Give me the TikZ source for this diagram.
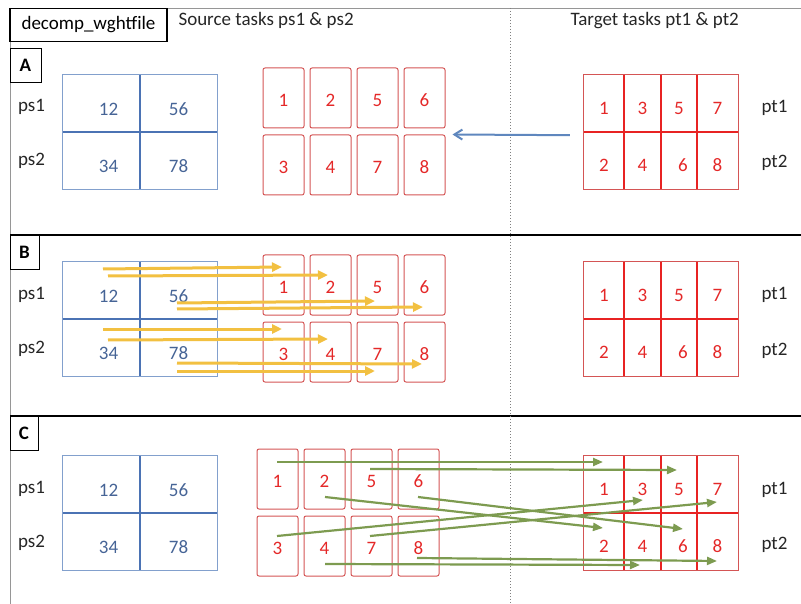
\documentclass[tikz,border=0pt]{standalone}
\usepackage{fontspec}
\setmainfont{Carlito}
\usetikzlibrary{arrows.meta,calc,positioning}
\definecolor{srcline}{RGB}{130,160,205}
\definecolor{srcmid}{RGB}{75,115,180}
\definecolor{srctext}{RGB}{70,100,150}
\definecolor{boxred}{RGB}{212,85,85}
\definecolor{gridred}{RGB}{232,35,35}
\definecolor{numred}{RGB}{228,40,40}
\definecolor{movyellow}{RGB}{242,192,65}
\definecolor{movgreen}{RGB}{125,155,80}
\definecolor{movblue}{RGB}{95,135,190}
\definecolor{framegray}{RGB}{150,150,150}

\tikzset{
  bcell/.style={minimum width=77pt, minimum height=57pt, inner sep=0pt, text=srctext, text height=24pt},
  bleft/.style={execute at begin node={\hspace*{14pt}}},
  sbox/.style={draw=boxred, line width=1pt, rounded corners=2pt, minimum width=41pt, minimum height=60pt, inner sep=0pt, text=numred, text height=17pt},
  tcell/.style={minimum width=#1, minimum height=57pt, inner sep=0pt, text=numred, text height=22pt},
  lbl/.style={anchor=base, text=black!85},
  tag/.style={draw, line width=0.8pt, font=\fontsize{19}{23}\selectfont\bfseries, inner sep=0pt, minimum height=34pt},
  movey/.style={movyellow, line width=3pt, -{Triangle[length=10pt,width=9pt]}},
  moveg/.style={movgreen, line width=2.2pt, -{Triangle[length=10pt,width=8pt]}},
}

\begin{document}
\begin{tikzpicture}[x=1pt, y=-1pt, font=\fontsize{19}{23}\selectfont]
\useasboundingbox (0,0) rectangle (801,604);
%--- frame ---
\draw[framegray, line width=0.8pt] (10,8) -- (801,8);
\draw[framegray, line width=0.8pt] (10.5,8) -- (10.5,604);
\draw[line width=1.6pt] (10,235) -- (801,235);
\draw[line width=1.6pt] (10,416) -- (801,416);
\draw[gray, dotted, line width=1pt] (510,8) -- (510,604);
%--- headers ---
\node[draw, line width=1.2pt, fill=white, minimum width=157pt, minimum height=33pt, inner sep=0pt] (title) at (88.5,25) {decomp\_wghtfile};
\node[anchor=base west, text=black!85] (srchead) at (175,26) {Source tasks ps1 \& ps2};
\node[anchor=base west, text=black!85] (tgthead) at (567,26) {Target tasks pt1 \& pt2};
\node[tag, minimum width=31pt] (tagA) at (25.5,65) {A};
\node[tag, minimum width=29pt] (tagB) at (24.5,252.5) {B};
\node[tag, minimum width=28pt] (tagC) at (24,433.5) {C};
%--- the three panels ---
\foreach \p/\dy/\dx in {a/0/0, b/187/0, c/381/-6}{
  \begin{scope}[shift={(0,\dy)}]
    % source grid
    \node[bcell, bleft] (\p-12) at (101.5,103.5) {12};
    \node[bcell]        (\p-56) at (178.5,103.5) {56};
    \node[bcell, bleft] (\p-34) at (101.5,160.5) {34};
    \node[bcell]        (\p-78) at (178.5,160.5) {78};
    \draw[srcline, line width=1pt] (\p-12.north west) rectangle (\p-78.south east);
    \draw[srcmid, line width=1.6pt] (\p-12.north east) -- (\p-34.south east);
    \draw[srcmid, line width=1.6pt] (\p-12.south west) -- (\p-56.south east);
    \node[lbl] (\p-ps1) at (31.5,112) {ps1};
    \node[lbl] (\p-ps2) at (31.5,166) {ps2};
    % source tasks
    \begin{scope}[shift={(\dx,0)}]
      \foreach \n [count=\i] in {1,2,5,6}
        \node[sbox] (\p-s\n) at (236.5+47*\i,98) {\n};
      \foreach \n [count=\i] in {3,4,7,8}
        \node[sbox] (\p-s\n) at (236.5+47*\i,165) {\n};
    \end{scope}
    % target grid
    \node[tcell=40pt] (\p-t1) at (604,103.5) {1};
    \node[tcell=37pt] (\p-t3) at (642.5,103.5) {3};
    \node[tcell=36pt] (\p-t5) at (679,103.5) {5};
    \node[tcell=41pt] (\p-t7) at (717.5,103.5) {7};
    \node[tcell=40pt] (\p-t2) at (604,160.5) {2};
    \node[tcell=37pt] (\p-t4) at (642.5,160.5) {4};
    \node[tcell=36pt, execute at begin node={\hspace*{8pt}}] (\p-t6) at (679,160.5) {6};
    \node[tcell=41pt] (\p-t8) at (717.5,160.5) {8};
    \draw[boxred, line width=1pt] (\p-t1.north west) rectangle (\p-t8.south east);
    \draw[gridred, line width=1.6pt] (\p-t1.south west) -- (\p-t7.south east);
    \foreach \c/\d in {1/2,3/4,5/6}
      \draw[gridred, line width=1.6pt] (\p-t\c.north east) -- (\p-t\d.south east);
    \node[lbl] (\p-pt1) at (774.5,113) {pt1};
    \node[lbl] (\p-pt2) at (774.5,168) {pt2};
  \end{scope}
}
%--- A: target back to source ---
\draw[movblue, line width=2pt, -{Straight Barb[length=8pt,width=10pt]}] ([shift={(-14,3)}]a-t1.south west) -- ([shift={(7,0)}]a-s8.north east);
%--- B: source grid -> source tasks ---
\foreach \s/\sx/\sy/\t/\tx/\ty in {12/1.5/-21.5/1/-1.5/-18, 12/6.5/-14.5/2/-2.5/-10,
    56/-1.5/12.5/5/-2.5/16, 56/-1.5/18.5/6/-1.5/22, 34/1.5/-18.5/3/-1.5/-23,
    34/6.5/-7.5/4/-2.5/-13, 78/-1.5/15.5/8/-2.5/12, 78/-1.5/23.5/7/-2.5/19}
  \draw[movey] ([shift={(\sx,\sy)}]b-\s.center) -- ([shift={(\tx,\ty)}]b-s\t.center);
%--- C: source tasks -> target tasks ---
\foreach \s/\sx/\sy/\t/\tx/\ty in {1/-0.5/-17/1/-1/-22.5, 5/-1.5/-10/5/-2/-14.5,
    2/0.5/18/2/-1/-13.5, 6/-0.5/18/6/4/-12.5, 3/-0.5/-10/3/0.5/15.5,
    7/-1.5/-10/7/-0.5/17.5, 4/0.5/18/4/-2.5/23.5, 8/-1.5/12/8/-0.5/19.5}
  \draw[moveg] ([shift={(\sx,\sy)}]c-s\s.center) -- ([shift={(\tx,\ty)}]c-t\t.center);
\end{tikzpicture}
\end{document}
